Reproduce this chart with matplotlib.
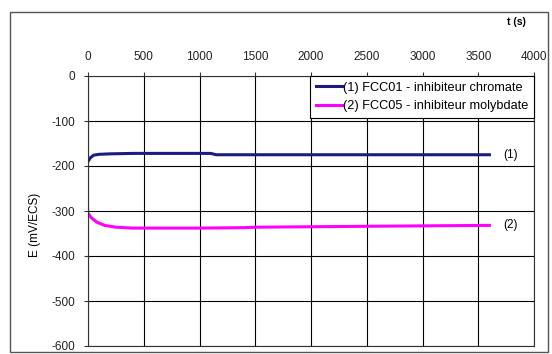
import matplotlib
matplotlib.use("Agg")
import matplotlib.pyplot as plt
from matplotlib.patches import Rectangle

plt.rcParams["font.family"] = ["Liberation Sans", "DejaVu Sans"]
plt.rcParams["axes.unicode_minus"] = False

# courbe (1) FCC01 - chromate
t1 = [0, 20, 50, 100, 200, 400, 600, 800, 1000, 1100, 1150, 1500, 2000, 2500, 3000, 3600]
E1 = [-190, -182, -176, -174, -173, -172, -172, -172, -172, -172, -175, -175, -175, -175, -175, -175]

# courbe (2) FCC05 - molybdate
t2 = [0, 30, 80, 150, 250, 400, 600, 1000, 1400, 1500, 2000, 2500, 3000, 3600]
E2 = [-305, -315, -325, -332, -336, -338, -338, -338, -337, -336, -335, -334, -333, -332]

labels = ["(1) FCC01 - inhibiteur chromate", "(2) FCC05 - inhibiteur molybdate"]
xticks = [0, 500, 1000, 1500, 2000, 2500, 3000, 3500, 4000]
yticks = [0, -100, -200, -300, -400, -500, -600]

fig = plt.figure(figsize=(5.52, 3.54), dpi=100)
fig.patches.append(Rectangle((10 / 552, 2 / 354), 538 / 552, 340 / 354,
                             transform=fig.transFigure, fill=False,
                             edgecolor="#555555", lw=1))
ax = fig.add_axes([88 / 552, 1 - 346 / 354, 446 / 552, 270 / 354])

ax.plot(t1, E1, color="#1c1c80", lw=2.2, label=labels[0])
ax.plot(t2, E2, color="#ff00ff", lw=2.2, label=labels[1])
ax.text(3720, E1[-1], "(1)", fontsize=8.5, va="center")
ax.text(3720, E2[-1], "(2)", fontsize=8.5, va="center")

ax.set_xlim(0, 4000)
ax.set_ylim(-600, 0)
ax.set_xticks(xticks)
ax.set_yticks(yticks)
ax.xaxis.tick_top()
ax.tick_params(labelsize=8.5, length=3, pad=6, colors="#333333", labelcolor="#222222")
ax.grid(True, color="black", lw=0.8)
for s in ax.spines.values():
    s.set_color("#333333")
ax.set_ylabel("E (mV/ECS)", fontsize=8.5, labelpad=8)
ax.yaxis.set_label_coords(-0.105, 0.45)
fig.text(516 / 552, 1 - 22 / 354, "t (s)", fontsize=7.5, fontweight="bold",
         ha="center", va="center")

leg = ax.legend(loc="upper right", fontsize=9.2, frameon=True, fancybox=False,
                borderaxespad=0, handlelength=2.0, handletextpad=0.1,
                borderpad=0.45, labelspacing=0.5)
leg.get_frame().set_edgecolor("black")
leg.get_frame().set_linewidth(0.8)
leg.get_frame().set_alpha(1)

fig.savefig("out.png", dpi=100)
